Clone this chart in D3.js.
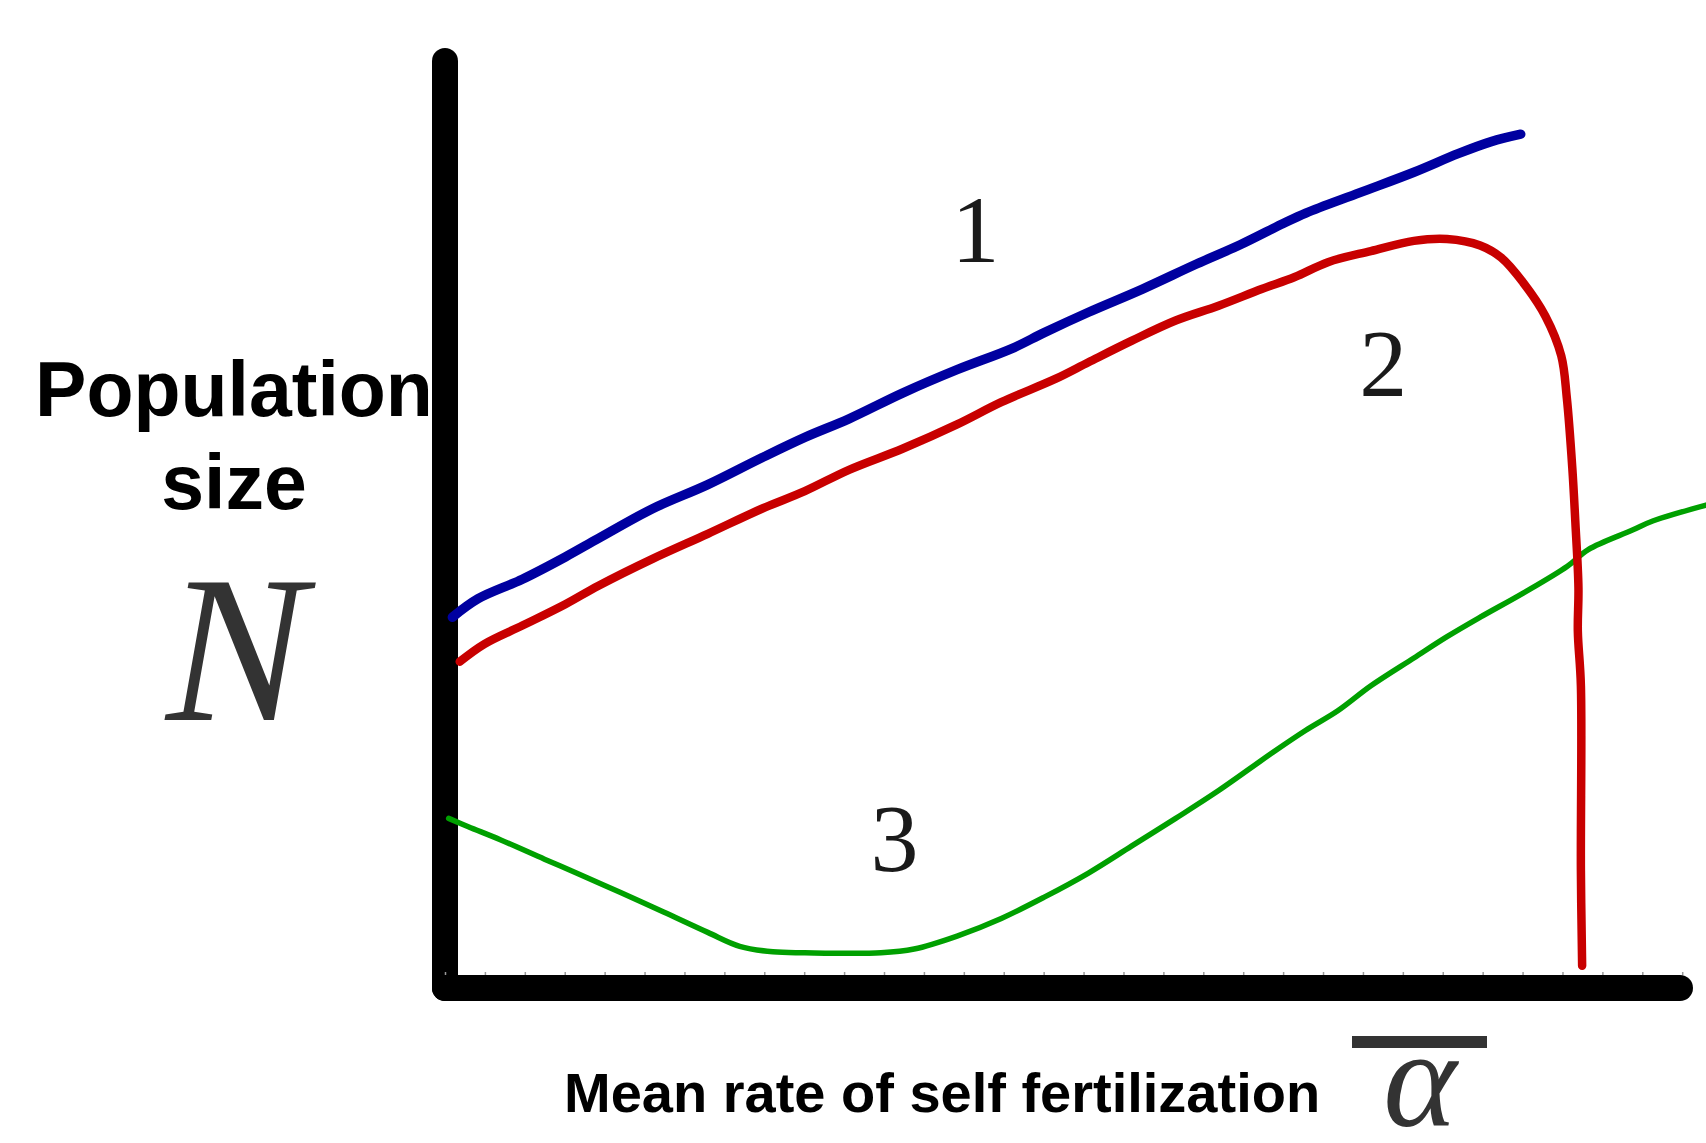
<!doctype html>
<html lang="en">
<head>
<meta charset="utf-8">
<title>Population size vs self fertilization</title>
<script src="https://cdn.jsdelivr.net/npm/d3@7/dist/d3.min.js"></script>
<style>
  body { margin: 0; background: #fff; }
  svg { display: block; }
  .lab { font-family: "Liberation Sans", Arial, Helvetica, sans-serif; font-weight: bold; fill: #000; }
  .math { font-family: "Liberation Serif", "DejaVu Serif", serif; font-style: italic; fill: #333; }
  .region { font-family: "Liberation Serif", "DejaVu Serif", serif; fill: #1a1a1a; }
</style>
</head>
<body>
<div id="chart"></div>
<script>
// curves: x = mean selfing rate (0-100), y = population size (0-100)
var blueX = [0.6, 2.7, 6.3, 9.8, 12.5, 16.9, 21.4, 25.8, 29.3, 32.9, 37.3, 41.7, 46.2, 48.8, 52.4, 56.8, 61.2, 64.8, 68.3, 70.1, 74.5, 78.9, 82.5, 85.2, 87.6];
var blueY = [40.0, 42.0, 44.1, 46.5, 48.5, 51.7, 54.3, 57.2, 59.4, 61.4, 64.2, 66.7, 69.0, 70.7, 72.9, 75.4, 78.1, 80.2, 82.5, 83.6, 85.8, 88.0, 90.0, 91.3, 92.1];

var redX = [1.2, 3.2, 6.3, 9.8, 12.5, 16.9, 21.4, 25.8, 29.3, 32.9, 37.3, 41.7, 45.3, 49.7, 52.4, 55.9, 59.5, 63.0, 66.5, 69.2, 71.9, 75.4, 78.9, 81.6, 84.3, 86.0, 87.8, 89.6, 90.9, 91.35, 91.8, 92.05, 92.3, 92.25, 92.5, 92.5, 92.6];
var redY = [35.2, 37.1, 39.1, 41.4, 43.4, 46.3, 49.0, 51.7, 53.6, 55.9, 58.2, 60.8, 63.2, 65.7, 67.5, 69.8, 72.0, 73.6, 75.4, 76.7, 78.3, 79.5, 80.6, 80.8, 80.1, 78.8, 76.1, 72.5, 68.2, 63.7, 56.1, 50.2, 43.2, 38.5, 32.6, 12.7, 2.4];

var greenX = [0.3, 1.9, 4.5, 8.1, 10.7, 14.3, 17.8, 21.4, 24.0, 26.7, 29.3, 35.5, 38.2, 41.7, 45.3, 48.8, 52.4, 55.9, 59.5, 63.0, 67.4, 70.1, 72.7, 75.4, 78.9, 81.6, 84.3, 87.8, 91.4, 93.1, 96.7, 98.4, 102.7];
var greenY = [18.3, 17.4, 16.0, 13.9, 12.4, 10.3, 8.2, 6.0, 4.5, 3.9, 3.8, 3.8, 4.2, 5.6, 7.5, 9.8, 12.4, 15.3, 18.3, 21.3, 25.4, 27.8, 29.9, 32.6, 35.6, 37.9, 40.0, 42.6, 45.5, 47.3, 49.4, 50.4, 52.1];

var regionLabels = ["1", "2", "3"];
var regionX = [43.2, 76.4, 36.6];
var regionY = [78.3, 63.9, 12.6];

var width = 1706, height = 1143;

var svg = d3.select("#chart").append("svg")
    .attr("width", width)
    .attr("height", height);

var x = d3.scaleLinear().domain([0, 100]).range([445, 1673]);
var y = d3.scaleLinear().domain([0, 100]).range([988, 61]);

// axes: heavy marker strokes
svg.append("line")
    .attr("x1", x(0)).attr("x2", x(0))
    .attr("y1", y(100)).attr("y2", y(0))
    .attr("stroke", "#000").attr("stroke-width", 26).attr("stroke-linecap", "round");
svg.append("line")
    .attr("x1", x(0)).attr("x2", x(100) + 7)
    .attr("y1", y(0)).attr("y2", y(0))
    .attr("stroke", "#000").attr("stroke-width", 26).attr("stroke-linecap", "round");

// faint tick notches along the bottom axis
var xAxis = d3.axisBottom(x).tickValues(d3.range(0, 101, 3.25)).tickSize(3).tickFormat("");
var gAx = svg.append("g").attr("transform", "translate(0," + (y(0) - 16) + ")").call(xAxis);
gAx.select(".domain").remove();
gAx.selectAll(".tick line").attr("stroke", "#999").attr("stroke-width", 1.5);

var line = d3.line()
    .x(function(d) { return x(d[0]); })
    .y(function(d) { return y(d[1]); })
    .curve(d3.curveCatmullRom.alpha(0.5));

function draw(xs, ys, color, w) {
  svg.append("path")
      .datum(d3.zip(xs, ys))
      .attr("d", line)
      .attr("fill", "none")
      .attr("stroke", color)
      .attr("stroke-width", w)
      .attr("stroke-linecap", "round")
      .attr("stroke-linejoin", "round");
}

draw(greenX, greenY, "#00a000", 5.5);
draw(redX, redY, "#c80000", 8.5);
draw(blueX, blueY, "#0000a0", 9.5);

svg.selectAll("text.region")
    .data(regionLabels)
    .enter().append("text")
    .attr("class", "region")
    .attr("x", function(d, i) { return x(regionX[i]); })
    .attr("y", function(d, i) { return y(regionY[i]); })
    .attr("text-anchor", "middle")
    .attr("font-size", 96)
    .text(function(d) { return d; });

// y label
svg.append("text").attr("class", "lab")
    .attr("x", 234).attr("y", 416)
    .attr("text-anchor", "middle").attr("font-size", 77)
    .text("Population");
svg.append("text").attr("class", "lab")
    .attr("x", 234).attr("y", 509)
    .attr("text-anchor", "middle").attr("font-size", 77)
    .text("size");
svg.append("text").attr("class", "math")
    .attr("x", 236).attr("y", 720)
    .attr("text-anchor", "middle").attr("font-size", 210)
    .text("N");

// x label
svg.append("text").attr("class", "lab")
    .attr("x", 564).attr("y", 1112)
    .attr("font-size", 56)
    .text("Mean rate of self fertilization");
svg.append("line")
    .attr("x1", 1352).attr("x2", 1487)
    .attr("y1", 1042).attr("y2", 1042)
    .attr("stroke", "#333").attr("stroke-width", 12);
svg.append("text").attr("class", "math")
    .attr("x", 1420).attr("y", 1126)
    .attr("text-anchor", "middle").attr("font-size", 140)
    .text("α");
</script>
</body>
</html>
